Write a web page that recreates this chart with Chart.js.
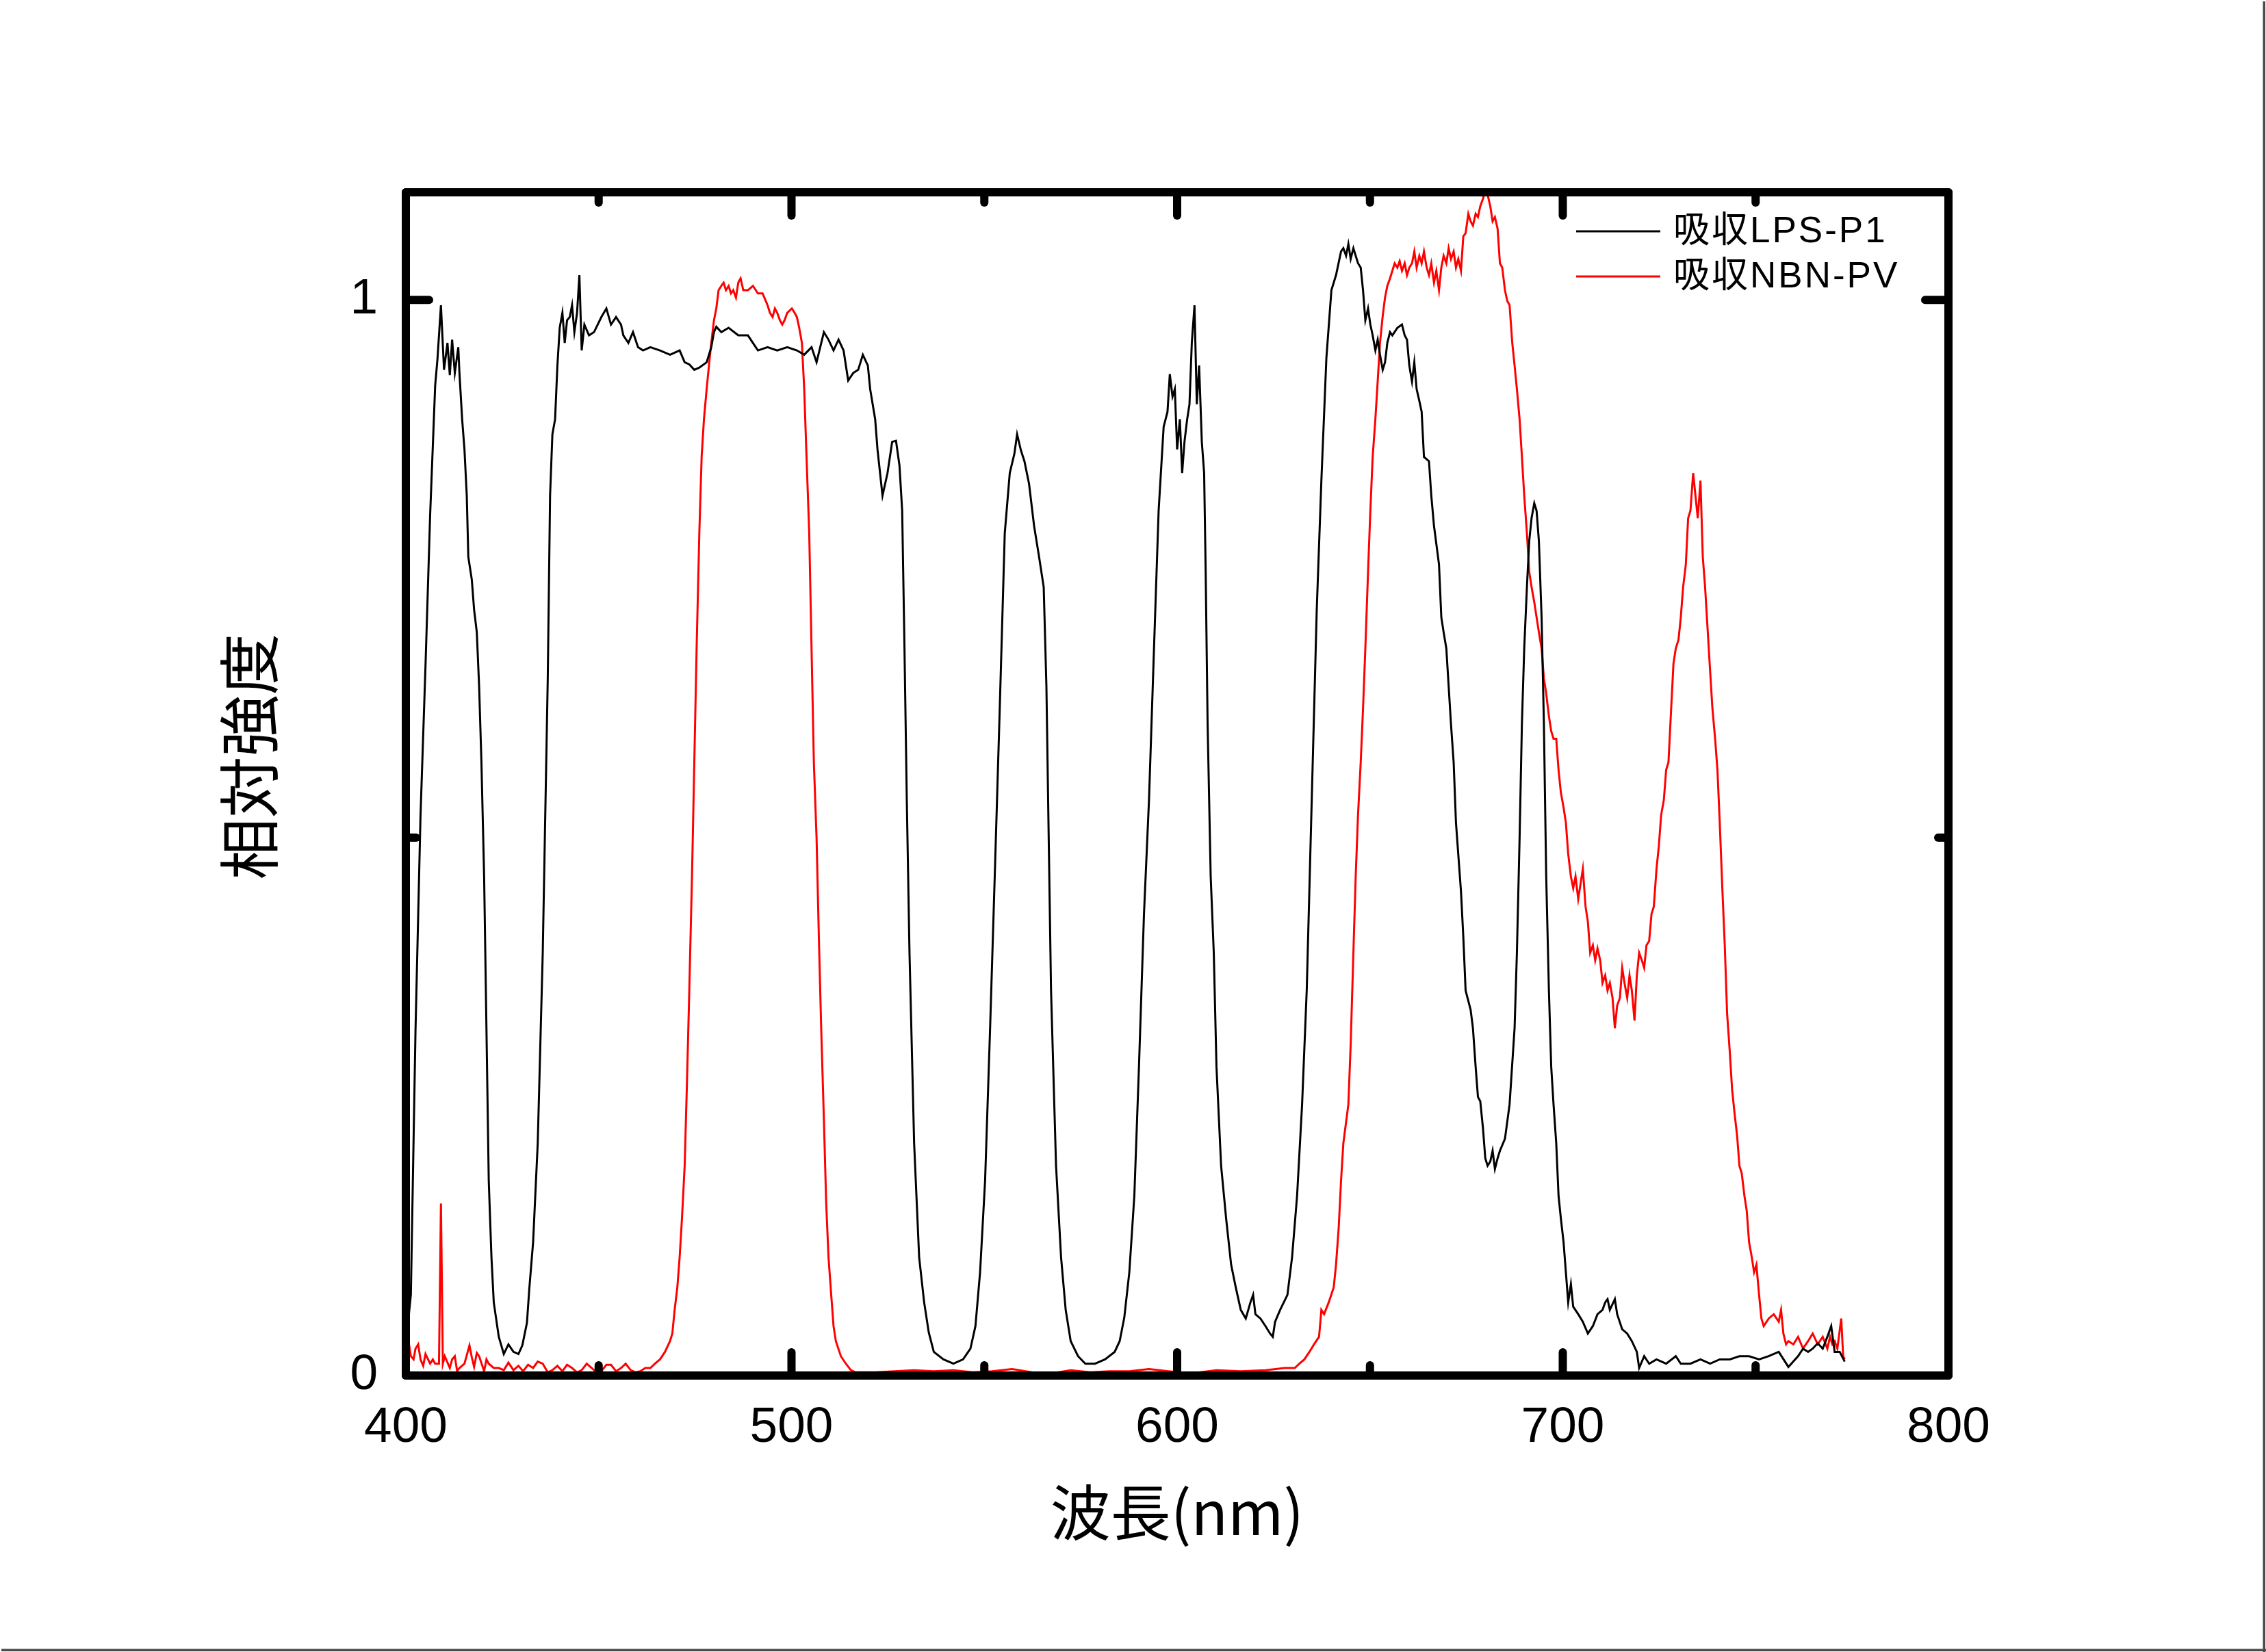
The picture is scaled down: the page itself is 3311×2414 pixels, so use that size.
<!DOCTYPE html>
<html><head><meta charset="utf-8">
<script src="https://cdn.jsdelivr.net/npm/chart.js@4.4.1/dist/chart.umd.min.js"></script>
<style>html,body{margin:0;padding:0;background:#fff;overflow:hidden}canvas{display:block}</style>
</head><body>
<canvas id="c" width="3311" height="2414" style="width:3311px;height:2414px"></canvas>
<script>
const seriesLabels = ['吸収LPS-P1', '吸収NBN-PV'];
const seriesColors = ['#000000', '#ff0000'];
const xTitle = '波長(nm)';
const yTitle = '相対強度';
const xMajorTicks = [400, 500, 600, 700, 800];
const xMinorTicks = [450, 550, 650, 750];
const yMajorTicks = [0, 1];
const yMinorTicks = [0.5];

const lpsWavelength = [
400.0,400.6,401.3,402.5,403.8,405.1,406.3,407.6,408.2,409.1,
409.9,410.8,411.4,412.0,412.7,413.6,413.9,414.6,415.2,415.8,
416.2,417.1,417.7,418.4,419.0,419.6,420.3,420.9,421.5,422.2,
422.8,424.1,425.4,426.6,427.9,429.2,430.2,431.4,432.0,433.0,
434.2,435.5,436.8,437.4,438.0,438.7,439.3,439.9,440.6,441.2,
441.8,442.5,443.1,443.7,444.4,445.0,445.6,446.3,447.5,448.8,
450.7,452.0,453.2,454.5,455.8,456.4,457.7,458.9,460.2,461.5,
463.4,465.9,468.5,471.0,472.3,473.5,474.8,476.1,478.0,479.2,
479.9,480.5,481.8,483.7,486.2,488.7,490.0,491.3,493.8,496.3,
498.9,501.4,503.3,505.2,506.5,508.4,509.6,510.9,512.2,513.5,
514.7,516.0,517.3,518.5,519.8,520.4,521.7,522.3,523.6,524.9,
526.1,527.1,528.0,528.7,529.3,529.9,530.6,531.8,533.1,534.4,
535.6,536.9,539.4,542.0,544.5,546.4,547.7,548.9,550.2,551.5,
552.7,554.0,555.3,556.6,557.8,558.5,559.5,560.4,561.6,562.9,
564.2,565.4,566.1,566.7,567.3,568.6,569.9,571.1,572.4,574.3,
576.2,578.7,581.3,583.8,585.1,586.3,587.6,588.9,590.1,591.4,
592.7,594.0,595.2,596.5,597.5,598.1,598.8,599.4,600.0,600.7,
601.3,601.9,602.6,603.2,603.8,604.5,605.1,605.7,606.4,607.0,
607.4,607.9,608.7,609.5,610.2,611.4,612.7,614.0,615.2,616.5,
617.8,619.0,619.7,620.3,621.6,622.9,624.1,624.8,625.4,626.7,
628.6,629.8,631.1,632.4,633.6,634.9,636.2,637.4,638.7,640.0,
641.2,642.5,643.1,643.8,644.4,645.0,645.7,646.3,646.9,647.6,
648.2,648.8,649.5,650.1,650.7,651.4,652.0,652.6,653.3,653.9,
654.5,655.2,655.8,657.1,658.3,659.0,659.6,660.2,660.9,661.5,
662.1,662.8,663.4,664.0,665.3,665.9,666.6,667.9,668.5,669.1,
669.8,670.4,671.0,671.7,672.3,673.6,674.2,674.8,676.1,676.7,
677.4,678.0,678.6,679.3,679.9,680.5,681.2,681.8,682.4,683.1,
683.7,685.0,686.2,687.5,688.1,688.8,689.4,690.0,690.7,691.3,
691.9,692.6,693.2,693.8,694.5,695.1,695.7,696.4,697.0,697.6,
698.3,698.9,699.5,700.2,700.8,701.4,702.1,702.7,704.0,705.2,
706.5,707.8,709.0,710.3,711.0,711.6,712.2,713.5,714.1,715.4,
716.7,717.9,719.2,719.8,721.1,722.4,724.3,726.8,729.3,730.6,
733.1,735.7,738.2,740.7,743.3,745.8,748.3,750.9,753.4,756.0,
758.5,761.0,762.3,763.6,764.8,766.1,767.4,768.6,769.6,770.5,
771.8,773.1
];
const lpsIntensity = [
0.030,0.050,0.075,0.320,0.520,0.660,0.800,0.920,0.945,0.995,
0.935,0.960,0.930,0.963,0.932,0.956,0.932,0.889,0.861,0.818,
0.761,0.740,0.712,0.691,0.641,0.570,0.464,0.323,0.181,0.110,
0.068,0.036,0.020,0.029,0.022,0.020,0.028,0.049,0.080,0.124,
0.216,0.393,0.648,0.818,0.875,0.889,0.939,0.974,0.988,0.960,
0.981,0.984,0.995,0.970,0.988,1.023,0.953,0.977,0.967,0.970,
0.984,0.992,0.977,0.984,0.977,0.967,0.960,0.970,0.956,0.953,
0.956,0.953,0.949,0.953,0.942,0.940,0.935,0.937,0.942,0.956,
0.970,0.975,0.970,0.974,0.967,0.967,0.960,0.953,0.956,0.953,
0.956,0.953,0.949,0.956,0.942,0.970,0.963,0.953,0.963,0.953,
0.925,0.932,0.935,0.949,0.939,0.917,0.889,0.861,0.818,0.839,
0.868,0.869,0.846,0.804,0.676,0.535,0.393,0.216,0.110,0.068,
0.040,0.022,0.015,0.011,0.015,0.025,0.046,0.096,0.181,0.323,
0.464,0.620,0.783,0.839,0.857,0.875,0.860,0.850,0.829,0.790,
0.761,0.733,0.641,0.499,0.358,0.195,0.110,0.061,0.032,0.018,
0.011,0.011,0.015,0.022,0.032,0.054,0.096,0.167,0.287,0.429,
0.535,0.676,0.804,0.882,0.896,0.931,0.910,0.917,0.861,0.889,
0.839,0.868,0.889,0.903,0.960,0.995,0.903,0.939,0.868,0.839,
0.747,0.606,0.464,0.393,0.287,0.195,0.146,0.103,0.082,0.061,
0.053,0.068,0.075,0.057,0.053,0.046,0.039,0.036,0.050,0.061,
0.075,0.110,0.167,0.252,0.358,0.535,0.712,0.832,0.946,1.009,
1.023,1.045,1.048,1.041,1.052,1.038,1.048,1.041,1.034,1.030,
1.009,0.981,0.992,0.977,0.967,0.953,0.963,0.949,0.935,0.942,
0.960,0.970,0.967,0.974,0.977,0.967,0.963,0.939,0.924,0.942,
0.917,0.906,0.896,0.854,0.850,0.818,0.790,0.754,0.705,0.691,
0.676,0.641,0.606,0.570,0.514,0.450,0.408,0.358,0.340,0.323,
0.287,0.259,0.255,0.230,0.202,0.195,0.199,0.209,0.192,0.202,
0.209,0.220,0.252,0.323,0.393,0.500,0.606,0.676,0.733,0.776,
0.797,0.811,0.804,0.776,0.705,0.606,0.464,0.358,0.287,0.252,
0.216,0.167,0.146,0.124,0.096,0.068,0.085,0.064,0.057,0.050,
0.039,0.046,0.057,0.061,0.068,0.071,0.061,0.071,0.057,0.043,
0.039,0.032,0.022,0.007,0.018,0.011,0.015,0.011,0.018,0.011,
0.011,0.015,0.011,0.015,0.015,0.018,0.018,0.015,0.018,0.022,
0.008,0.018,0.025,0.022,0.025,0.030,0.025,0.036,0.046,0.022,
0.022,0.013
];

const nbnWavelength = [
400.0,400.6,401.3,402.0,402.5,403.2,403.8,404.5,405.1,406.3,
407.0,407.6,408.6,409.1,409.6,410.1,411.4,412.0,412.7,413.3,
413.9,415.2,416.5,417.1,417.7,418.4,419.0,420.3,420.9,421.5,
422.8,424.1,425.4,426.6,427.9,429.2,430.4,431.7,433.0,434.2,
435.5,436.8,438.0,439.3,440.6,441.8,443.1,444.4,445.6,446.9,
448.2,449.4,450.7,452.0,453.2,454.5,455.8,457.0,458.3,459.6,
460.8,462.1,463.4,464.6,465.9,467.2,468.5,469.1,469.7,470.4,
471.0,471.6,472.3,472.9,473.5,474.2,474.8,475.4,476.1,476.7,
477.3,478.0,478.6,479.2,479.9,480.5,481.1,481.8,482.4,483.0,
483.7,484.3,484.9,485.6,486.2,486.8,487.5,488.7,490.0,491.3,
492.5,493.8,494.4,495.1,495.7,496.3,497.0,497.6,498.2,498.9,
500.1,500.8,501.4,502.0,502.7,503.3,503.9,504.6,505.2,505.8,
506.5,507.1,507.7,508.4,509.0,509.6,510.3,510.9,511.5,512.8,
514.1,515.4,516.6,521.7,526.8,531.8,536.9,542.0,547.0,552.1,
557.2,562.3,567.3,572.4,577.5,582.5,587.6,592.7,597.7,603.8,
610.2,616.5,622.9,627.9,630.5,631.7,633.0,634.3,635.5,636.8,
637.4,638.1,639.3,640.6,641.2,641.9,642.5,643.1,644.4,645.0,
645.7,646.3,646.9,647.6,648.2,648.8,649.5,650.1,650.7,651.4,
652.0,652.6,653.3,653.9,654.5,655.2,655.8,656.4,657.1,657.7,
658.3,659.0,659.6,660.2,660.9,661.5,662.1,662.8,663.4,664.0,
664.7,665.3,665.9,666.6,667.2,667.9,668.5,669.1,669.8,670.4,
671.0,671.7,672.3,672.9,673.6,674.2,674.8,675.5,676.1,676.7,
677.4,678.0,678.6,679.3,679.9,680.5,681.2,681.8,682.4,683.1,
683.7,684.3,685.0,685.6,686.2,686.9,687.5,688.1,688.8,689.4,
690.0,690.7,691.3,691.9,692.6,693.2,693.8,694.5,695.1,695.7,
696.4,697.0,697.6,698.3,698.9,699.5,700.2,700.8,701.4,702.1,
702.7,703.3,704.0,704.6,705.2,705.9,706.5,707.1,707.8,708.4,
709.0,709.7,710.3,711.0,711.6,712.2,712.9,713.5,714.1,714.8,
715.4,716.0,716.7,717.3,717.9,718.6,719.2,719.8,720.5,721.1,
721.7,722.4,723.0,723.6,724.3,724.9,725.5,726.2,726.8,727.4,
728.1,728.7,729.3,730.0,730.6,731.2,731.9,732.5,733.1,733.8,
734.4,735.0,735.7,736.3,736.9,737.6,738.2,738.8,739.5,740.1,
740.7,741.4,742.0,742.6,743.3,743.9,744.5,745.2,745.8,746.4,
747.1,747.7,748.3,749.0,749.6,750.2,750.9,751.5,752.1,753.4,
754.7,756.0,756.6,757.2,757.9,758.5,759.8,761.0,762.3,763.6,
764.8,766.1,767.4,768.6,769.3,769.9,770.5,771.2,772.2,772.7,
773.1
];
const nbnIntensity = [
0.029,0.034,0.018,0.015,0.025,0.029,0.015,0.009,0.020,0.011,
0.015,0.011,0.011,0.160,0.011,0.018,0.007,0.015,0.018,0.004,
0.007,0.011,0.028,0.017,0.008,0.021,0.018,0.004,0.015,0.011,
0.007,0.007,0.005,0.012,0.005,0.009,0.004,0.010,0.007,0.013,
0.011,0.003,0.005,0.009,0.004,0.010,0.007,0.003,0.005,0.011,
0.007,0.003,0.004,0.010,0.010,0.004,0.007,0.011,0.005,0.003,
0.004,0.007,0.007,0.011,0.015,0.022,0.032,0.039,0.061,0.082,
0.110,0.146,0.195,0.273,0.358,0.464,0.570,0.676,0.783,0.854,
0.889,0.917,0.939,0.960,0.981,0.992,1.009,1.013,1.016,1.009,
1.013,1.006,1.009,1.002,1.016,1.020,1.009,1.009,1.013,1.006,
1.006,0.995,0.988,0.984,0.992,0.988,0.981,0.977,0.981,0.988,
0.992,0.988,0.984,0.974,0.960,0.917,0.854,0.783,0.676,0.570,
0.500,0.407,0.323,0.238,0.160,0.110,0.075,0.046,0.032,0.018,
0.011,0.005,0.003,0.003,0.004,0.005,0.004,0.005,0.003,0.004,
0.006,0.003,0.002,0.005,0.003,0.004,0.004,0.006,0.004,0.002,
0.005,0.004,0.005,0.007,0.007,0.011,0.015,0.022,0.029,0.036,
0.061,0.057,0.068,0.082,0.103,0.138,0.181,0.216,0.252,0.308,
0.393,0.464,0.521,0.570,0.620,0.676,0.747,0.804,0.854,0.889,
0.924,0.960,0.985,1.002,1.013,1.020,1.027,1.034,1.030,1.036,
1.027,1.034,1.023,1.030,1.034,1.045,1.030,1.041,1.034,1.045,
1.030,1.023,1.034,1.016,1.027,1.009,1.030,1.041,1.034,1.048,
1.038,1.045,1.030,1.038,1.027,1.059,1.062,1.080,1.073,1.069,
1.080,1.077,1.087,1.094,1.101,1.098,1.087,1.073,1.077,1.066,
1.034,1.030,1.009,0.999,0.995,0.960,0.939,0.917,0.889,0.854,
0.818,0.783,0.747,0.733,0.719,0.705,0.691,0.676,0.648,0.634,
0.613,0.599,0.592,0.592,0.563,0.542,0.528,0.514,0.485,0.464,
0.453,0.464,0.443,0.457,0.471,0.436,0.422,0.393,0.400,0.386,
0.397,0.386,0.365,0.372,0.358,0.365,0.351,0.323,0.344,0.351,
0.379,0.365,0.351,0.372,0.358,0.330,0.372,0.393,0.386,0.379,
0.400,0.404,0.429,0.436,0.471,0.492,0.521,0.535,0.563,0.570,
0.620,0.662,0.676,0.684,0.705,0.733,0.754,0.797,0.804,0.839,
0.818,0.797,0.832,0.761,0.733,0.691,0.655,0.620,0.592,0.563,
0.514,0.450,0.400,0.337,0.301,0.266,0.245,0.223,0.195,0.188,
0.167,0.153,0.124,0.110,0.096,0.103,0.075,0.053,0.046,0.053,
0.057,0.050,0.061,0.039,0.029,0.032,0.029,0.036,0.025,0.032,
0.039,0.029,0.036,0.025,0.036,0.029,0.032,0.025,0.053,0.018,
0.015
];

const toPoints = (xs, ys) => xs.map((x, i) => ({x: x, y: ys[i]}));

const framePlugin = {
  id: 'frame',
  beforeDraw(chart) {
    const c = chart.ctx, W = chart.width, H = chart.height;
    c.save();
    c.fillStyle = '#ffffff';
    c.fillRect(0, 0, W, H);
    c.fillStyle = '#9a9a9a';
    c.fillRect(W - 5, 2, 1, H - 2);
    c.fillRect(2, H - 5, W - 2, 1);
    c.fillStyle = '#4a4a4a';
    c.fillRect(W - 4, 2, 3, H - 2);
    c.fillRect(2, H - 4, W - 2, 3);
    c.restore();
  },
  afterDatasetsDraw(chart) {
    const c = chart.ctx, a = chart.chartArea, xs = chart.scales.x, ys = chart.scales.y;
    c.save();
    c.strokeStyle = '#000';
    c.lineWidth = 12;
    c.lineJoin = 'round';
    c.lineCap = 'round';
    c.strokeRect(a.left, a.top, a.right - a.left, a.bottom - a.top);
    const seg = (x1, y1, x2, y2) => { c.beginPath(); c.moveTo(x1, y1); c.lineTo(x2, y2); c.stroke(); };
    const MAJ = 34, MIN = 15;
    xMajorTicks.forEach(v => { const p = xs.getPixelForValue(v); seg(p, a.bottom, p, a.bottom - MAJ); seg(p, a.top, p, a.top + MAJ); });
    xMinorTicks.forEach(v => { const p = xs.getPixelForValue(v); seg(p, a.bottom, p, a.bottom - MIN); seg(p, a.top, p, a.top + MIN); });
    yMajorTicks.forEach(v => { const p = ys.getPixelForValue(v); seg(a.left, p, a.left + MAJ, p); seg(a.right, p, a.right - MAJ, p); });
    yMinorTicks.forEach(v => { const p = ys.getPixelForValue(v); seg(a.left, p, a.left + MIN, p); seg(a.right, p, a.right - MIN, p); });
    c.restore();
  },
  afterDraw(chart) {
    const c = chart.ctx, a = chart.chartArea;
    c.save();
    // legend
    const lx0 = a.right - 544, lx1 = a.right - 421, tx = a.right - 402;
    chart.data.datasets.forEach((ds, i) => {
      const ly = a.top + 57 + i * 66;
      c.strokeStyle = ds.borderColor;
      c.lineWidth = 3;
      c.beginPath(); c.moveTo(lx0, ly); c.lineTo(lx1, ly); c.stroke();
      c.fillStyle = '#000';
      c.font = '53px "Liberation Sans", "Noto Sans CJK JP"';
      if ('letterSpacing' in c) c.letterSpacing = '3px';
      c.textAlign = 'left';
      c.textBaseline = 'middle';
      c.fillText(ds.label, tx, ly + 1);
    });
    if ('letterSpacing' in c) c.letterSpacing = '0px';
    // y-axis title
    c.translate(364, (a.top + a.bottom) / 2 - 40);
    c.rotate(-Math.PI / 2);
    c.font = '90px "Noto Sans CJK JP"';
    c.fillStyle = '#000';
    c.textAlign = 'center';
    c.textBaseline = 'middle';
    c.fillText(yTitle, 0, 0);
    c.restore();
  }
};

new Chart(document.getElementById('c').getContext('2d'), {
  type: 'line',
  data: {
    datasets: [
      {label: seriesLabels[0], data: toPoints(lpsWavelength, lpsIntensity), borderColor: seriesColors[0], borderWidth: 3, pointRadius: 0, tension: 0, fill: false},
      {label: seriesLabels[1], data: toPoints(nbnWavelength, nbnIntensity), borderColor: seriesColors[1], borderWidth: 3, pointRadius: 0, tension: 0, fill: false}
    ]
  },
  options: {
    responsive: false,
    animation: false,
    devicePixelRatio: 1,
    layout: {padding: {left: 0, right: 464, top: 281, bottom: 104}},
    plugins: {legend: {display: false}, tooltip: {enabled: false}},
    scales: {
      x: {
        type: 'linear', min: 400, max: 800, position: 'bottom',
        afterBuildTicks: s => { s.ticks = xMajorTicks.map(v => ({value: v})); },
        afterFit: s => { s.height = 300; },
        grid: {display: false, drawTicks: false},
        border: {display: false},
        ticks: {font: {family: 'Liberation Sans', size: 73}, color: '#000', padding: 33, maxRotation: 0, autoSkip: false},
        title: {display: true, text: xTitle, color: '#000', font: {family: 'Noto Sans CJK JP', size: 88}, padding: {top: 0, bottom: 48}}
      },
      y: {
        type: 'linear', min: 0, max: 1.1,
        afterBuildTicks: s => { s.ticks = yMajorTicks.map(v => ({value: v})); },
        afterFit: s => { s.width = 593; },
        grid: {display: false, drawTicks: false},
        border: {display: false},
        ticks: {font: {family: 'Liberation Sans', size: 73}, color: '#000', padding: 41, autoSkip: false},
        title: {display: false}
      }
    }
  },
  plugins: [framePlugin]
});
</script>
</body></html>
